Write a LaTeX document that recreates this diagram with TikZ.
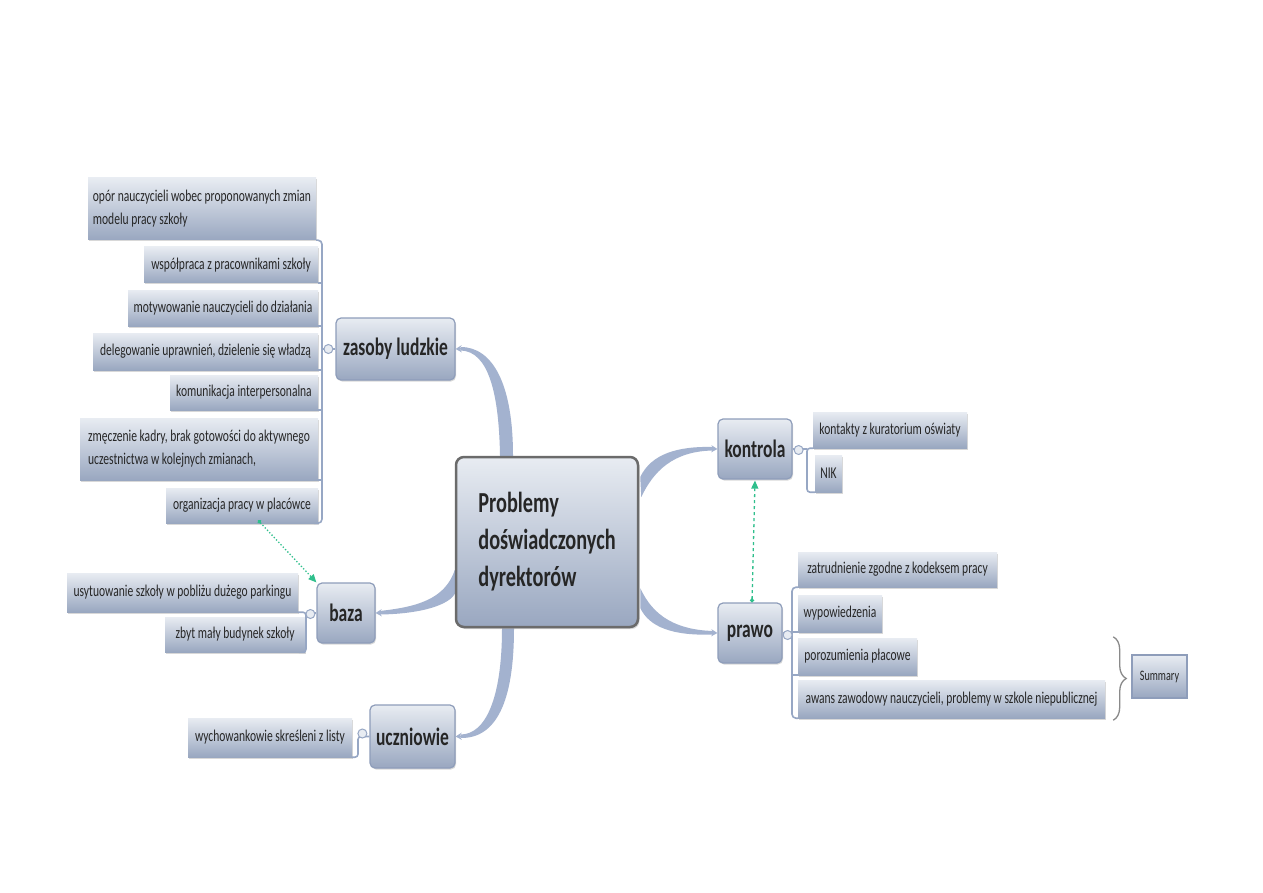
\documentclass[tikz,border=0pt]{standalone}
\usepackage{fontspec}
\setmainfont{Carlito}[FakeStretch=0.70]
\usetikzlibrary{calc,shadows,arrows.meta,decorations.pathreplacing}
\definecolor{boxtop}{HTML}{E8ECF2}
\definecolor{boxbot}{HTML}{99A7C0}
\definecolor{linec}{HTML}{97A7C4}
\definecolor{connc}{HTML}{A3B2CF}
\definecolor{topicborder}{HTML}{8E9DBA}
\definecolor{centerborder}{HTML}{6B6B6B}
\definecolor{txt}{HTML}{262626}
\definecolor{grn}{HTML}{2FBF8C}
\definecolor{bracec}{HTML}{8A8A8A}
\pgfdeclarelayer{bg}
\pgfsetlayers{bg,main}
\begin{document}
\begin{tikzpicture}[x=1pt,y=-1pt,
  subbox/.style={top color=boxtop,bottom color=boxbot,draw=none,inner sep=2pt,align=left,
    font=\fontsize{16.5}{23}\selectfont,text=txt,
    drop shadow={shadow xshift=1pt,shadow yshift=-1.5pt,opacity=0.3}},
  topicbox/.style={top color=boxtop,bottom color=boxbot,draw=topicborder,line width=1.2pt,
    rounded corners=5pt,inner sep=2pt,font=\fontsize{25}{28}\selectfont\bfseries,text=txt,
    drop shadow={shadow xshift=1pt,shadow yshift=-1.5pt,opacity=0.3}},
  centralbox/.style={top color=boxtop,bottom color=boxbot,draw=centerborder,line width=2.5pt,
    rounded corners=8pt,align=left,font=\fontsize{29}{37}\selectfont\bfseries,text=txt,
    drop shadow={shadow xshift=1.5pt,shadow yshift=-2pt,opacity=0.3}},
  sumbox/.style={top color=boxtop,bottom color=boxbot,draw=topicborder,line width=1.2pt,
    font=\fontsize{14.5}{16}\selectfont,text=txt},
  bline/.style={draw=linec,line width=1.6pt},
  coll/.style={circle,minimum size=9pt,inner sep=0pt,draw=linec,fill=boxtop,line width=1pt},
  tip/.style={draw=connc,line width=1.5pt,-{Stealth[length=6pt,width=7pt]}},
  greenlink/.style={draw=grn,line width=1.3pt,{Circle[length=4pt]}-{Triangle[length=8pt,width=7pt]}}
]
\useasboundingbox (0,0) rectangle (1263,893);

% central topic
\node[centralbox,minimum width=182pt,minimum height=170pt] (c) at (547,542)
  {Problemy\\doświadczonych\\dyrektorów};

% main topics
\node[topicbox,minimum width=119pt,minimum height=62pt] (zas) at (395.5,349) {zasoby ludzkie};
\node[topicbox,minimum width=58pt,minimum height=60pt] (baza) at (346,613) {baza};
\node[topicbox,minimum width=85pt,minimum height=63pt] (ucz) at (412.5,736.5) {uczniowie};
\node[topicbox,minimum width=74pt,minimum height=60pt] (kon) at (755,449) {kontrola};
\node[topicbox,minimum width=64pt,minimum height=60pt] (pr) at (750,633) {prawo};

% zasoby ludzkie subtopics
\node[subbox,minimum width=228pt,minimum height=62pt] (s1) at (202,209)
  {opór nauczycieli wobec proponowanych zmian\\modelu pracy szkoły};
\node[subbox,minimum width=174pt,minimum height=36pt] (s2) at (231,265) {współpraca z pracownikami szkoły};
\node[subbox,minimum width=190pt,minimum height=36pt] (s3) at (223,308) {motywowanie nauczycieli do działania};
\node[subbox,minimum width=225pt,minimum height=37pt] (s4) at (205.5,351.5) {delegowanie uprawnień, dzielenie się władzą};
\node[subbox,minimum width=148pt,minimum height=35pt] (s5) at (244,392.5) {komunikacja interpersonalna};
\node[subbox,minimum width=238pt,minimum height=62pt] (s6) at (199,449)
  {zmęczenie kadry, brak gotowości do aktywnego\\uczestnictwa w kolejnych zmianach,};
\node[subbox,minimum width=152pt,minimum height=35pt] (s7) at (242,505.5) {organizacja pracy w placówce};

% baza subtopics
\node[subbox,minimum width=231pt,minimum height=39pt] (b1) at (182.5,592.5) {usytuowanie szkoły w pobliżu dużego parkingu};
\node[subbox,minimum width=140pt,minimum height=35pt] (b2) at (235,634.5) {zbyt mały budynek szkoły};

% uczniowie subtopic
\node[subbox,minimum width=164pt,minimum height=39pt] (u1) at (270,737.5) {wychowankowie skreśleni z listy};

% kontrola subtopics
\node[subbox,minimum width=154pt,minimum height=36pt] (k1) at (890,430) {kontakty z kuratorium oświaty};
\node[subbox,minimum width=27pt,minimum height=37pt] (k2) at (828.5,473.5) {NIK};

% prawo subtopics
\node[subbox,minimum width=199pt,minimum height=35pt] (p1) at (897.5,569.5) {zatrudnienie zgodne z kodeksem pracy};
\node[subbox,minimum width=84pt,minimum height=37pt] (p2) at (840,613.5) {wypowiedzenia};
\node[subbox,minimum width=119pt,minimum height=37pt] (p3) at (857.5,656.5) {porozumienia płacowe};
\node[subbox,minimum width=307pt,minimum height=38pt] (p4) at (951.5,699) {awans zawodowy nauczycieli, problemy w szkole niepublicznej};

% summary
\node[sumbox,minimum width=55pt,minimum height=43pt] (sum) at (1159.5,676.5) {Summary};

% background: white, tapered connectors
\begin{pgfonlayer}{bg}
\fill[white] (0,0) rectangle (1263,893);
\fill[connc] ($(c.north)+(-47,0)$) .. controls ($(c.north)+(-48,-62)$) and ($(zas.east)+(33,2)$) .. ($(zas.east)+(5,1.5)$)
  -- ($(zas.east)+(5,-2)$) .. controls ($(zas.east)+(37,-2)$) and ($(c.north)+(-34,-72)$) .. ($(c.north)+(-34,0)$) -- cycle;
\fill[connc] ($(c.west)+(0,28)$) .. controls ($(c.west)+(-10,58)$) and ($(baza.east)+(40,-6)$) .. ($(baza.east)+(4,-2)$)
  -- ($(baza.east)+(4,1.5)$) .. controls ($(baza.east)+(45,1)$) and ($(c.west)+(-4,63)$) .. ($(c.west)+(1,50)$) -- cycle;
\fill[connc] ($(c.south)+(-45,0)$) .. controls ($(c.south)+(-45,70)$) and ($(ucz.east)+(30,-2)$) .. ($(ucz.east)+(5,-2)$)
  -- ($(ucz.east)+(5,1.5)$) .. controls ($(ucz.east)+(40,2)$) and ($(c.south)+(-33,75)$) .. ($(c.south)+(-33,0)$) -- cycle;
\fill[connc] ($(c.east)+(1,-65)$) .. controls ($(c.east)+(12,-88)$) and ($(kon.west)+(-40,-3)$) .. ($(kon.west)+(-4,-2)$)
  -- ($(kon.west)+(-4,1.5)$) .. controls ($(kon.west)+(-45,2)$) and ($(c.east)+(14,-70)$) .. ($(c.east)+(2,-45)$) -- cycle;
\fill[connc] ($(c.east)+(1,46)$) .. controls ($(c.east)+(14,75)$) and ($(pr.west)+(-40,-3)$) .. ($(pr.west)+(-4,-2)$)
  -- ($(pr.west)+(-4,1.5)$) .. controls ($(pr.west)+(-45,3)$) and ($(c.east)+(10,85)$) .. ($(c.east)+(1,66)$) -- cycle;
\end{pgfonlayer}

% arrow tips of main connectors
\draw[tip] ($(zas.east)+(8,-0.3)$) -- (zas.east);
\draw[tip] ($(baza.east)+(8,-0.3)$) -- (baza.east);
\draw[tip] ($(ucz.east)+(8,-0.3)$) -- (ucz.east);
\draw[tip] ($(kon.west)+(-8,-0.3)$) -- (kon.west);
\draw[tip] ($(pr.west)+(-8,-0.3)$) -- (pr.west);

% zasoby ludzkie bracket
\coordinate (zl) at (322,0);
\draw[bline,rounded corners=4pt] (s1.south east) -- (s1.south east -| zl) -- (s7.south east -| zl) -- (s7.south east);
\foreach \n in {s2,s3,s4,s5,s6} \draw[bline] (\n.south east) -- (\n.south east -| zl);
\draw[bline] (zl |- zas.west) -- (zas.west);
\node[coll] (cz) at ($(zas.west)+(-7,0)$) {};

% baza bracket
\coordinate (bl) at (306,0);
\draw[bline,rounded corners=3pt] (b1.south east) -- (b1.south east -| bl) -- (b2.south east -| bl) -- (b2.south east);
\draw[bline] (bl |- baza.west) -- (baza.west);
\node[coll] (cb) at ($(baza.west)+(-6,1)$) {};

% uczniowie bracket
\coordinate (ul) at (358,0);
\draw[bline,rounded corners=3pt] (u1.south east) -- (u1.south east -| ul) -- (ul |- ucz.west) -- (ucz.west);
\node[coll] (cu) at ($(ucz.west)+(-7,-3)$) {};

% kontrola bracket
\coordinate (kl) at (807,0);
\draw[bline,rounded corners=3pt] (k1.south west) -- (k1.south west -| kl) -- (k2.south west -| kl) -- (k2.south west);
\draw[bline] (kon.east) -- (kl |- kon.east);
\node[coll] (ck) at ($(kon.east)+(6,1)$) {};

% prawo bracket
\coordinate (pl) at (792,0);
\draw[bline,rounded corners=4pt] (p1.south west) -- (p1.south west -| pl) -- (p4.south west -| pl) -- (p4.south west);
\foreach \n in {p2,p3} \draw[bline] (\n.south west) -- (\n.south west -| pl);
\draw[bline] (pr.east) -- (pl |- pr.east);
\node[coll] (cp) at ($(pr.east)+(5,2)$) {};

% summary brace
\draw[bracec,line width=1.3pt,decorate,decoration={brace,amplitude=13pt}]
  ($(p3.north -| p4.east)+(8,-1)$) -- ($(p4.south east)+(8,2)$);

% relationship links
\draw[greenlink,dotted] ($(s7.south)+(16,-3)$) -- (baza.north west);
\draw[greenlink,dashed] ($(pr.north)+(2,0)$) -- ($(kon.south)+(0,1)$);
\end{tikzpicture}
\end{document}
